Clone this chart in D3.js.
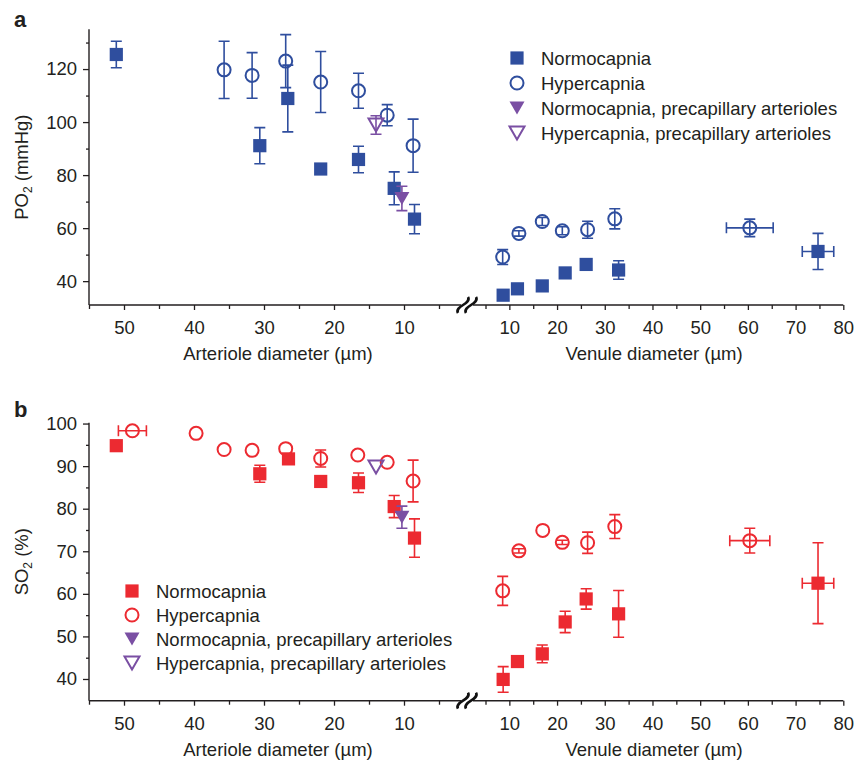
<html>
<head>
<style>
body { margin: 0; background: #fff; }
svg { display: block; }
text { font-family: 'Liberation Sans', Arial, Helvetica, sans-serif; fill: #231f20; }
</style>
<script src="https://d3js.org/d3.v7.min.js"></script>
</head>
<body>
<svg id="chart" width="855" height="760"></svg>
<script>
// rows: [diameter (um), value, y error, x error]
// panel a - PO2 (mmHg)
const po2ArtNormo = [[51.1,125.5,5],[30.6,91.1,6.8],[26.6,108.9,12.6],[21.9,82.3,0],[16.5,85.9,5],[11.4,75.0,6.2],[8.5,63.4,5.5]];
const po2ArtHyper = [[35.7,119.7,10.8],[31.7,117.6,8.6],[26.9,123.0,10],[21.9,115.1,11.5],[16.5,111.8,6.6],[12.4,102.6,4],[8.7,91.1,10]];
const po2PreNormo = [[10.3,71.2,4.6]];
const po2PreHyper = [[14.0,98.9,3.5]];
const po2VenNormo = [[8.7,34.7,0],[11.7,37.1,0],[16.9,38.2,0],[21.7,43.1,0],[26.1,46.3,0],[32.9,44.2,3.5],[74.7,51.2,6.8,3.3]];
const po2VenHyper = [[8.6,49.1,2.8],[12.0,58.0,1],[16.9,62.5,1.5],[21.1,59.0,1.5],[26.4,59.4,3.2],[32.1,63.5,3.8],[60.4,60.1,3.3,4.9]];

// panel b - SO2 (%)
const so2ArtNormo = [[51.1,94.8,0],[30.6,88.2,2],[26.5,91.7,0.8],[21.9,86.4,0],[16.5,86.1,2.3],[11.4,80.5,2.6],[8.5,73.1,4.5]];
const so2ArtHyper = [[48.8,98.3,0,2],[39.7,97.7,0],[35.7,93.9,0],[31.7,93.7,0],[26.9,94.1,0],[21.9,91.8,2],[16.6,92.6,0],[12.4,90.9,0],[8.7,86.5,4.9]];
const so2PreNormo = [[10.3,78.0,2.6]];
const so2PreHyper = [[14.0,89.8,0]];
const so2VenNormo = [[8.7,39.9,3],[11.7,44.1,1],[16.9,45.9,2.1],[21.7,53.4,2.5],[26.1,58.8,2.4],[32.9,55.3,5.5],[74.7,62.5,9.5,3.3]];
const so2VenHyper = [[8.6,60.7,3.4],[12.0,70.1,0.5],[17.0,74.9,0],[21.1,72.1,0.5],[26.4,72.0,2.5],[32.1,75.8,2.8],[60.4,72.5,2.9,4.2]];

const legendNames = ["Normocapnia", "Hypercapnia", "Normocapnia, precapillary arterioles", "Hypercapnia, precapillary arterioles"];
const artTicks = [50, 40, 30, 20, 10];
const artMinor = [55, 45, 35, 25, 15, 5];
const venTicks = [10, 20, 30, 40, 50, 60, 70, 80];
const venMinor = [5, 15, 25, 35, 45, 55, 65, 75];

const blue = "#2f4e9e", red = "#ec2a31", purple = "#7a4fa3";
const fs = "18.5px";
const svg = d3.select("#chart");

// arteriole axis reversed, venule axis after the break
const xArt = d3.scaleLinear().domain([55, 5]).range([89, 439]);
const xVen = d3.scaleLinear().domain([5, 80]).range([485.5, 843.3]);

function marker(g, type, color, x, y) {
  if (type == "square") {
    g.append("rect").attr("x", x - 6.6).attr("y", y - 6.6).attr("width", 13.2).attr("height", 13.2).attr("fill", color);
  } else if (type == "circle") {
    g.append("circle").attr("cx", x).attr("cy", y).attr("r", 6.5).attr("fill", "none").attr("stroke", color).attr("stroke-width", 2);
  } else {
    const p = "M" + (x - 7.5) + "," + (y - 6.5) + "L" + (x + 7.5) + "," + (y - 6.5) + "L" + x + "," + (y + 6.5) + "Z";
    if (type == "tri") g.append("path").attr("d", p).attr("fill", color);
    else g.append("path").attr("d", p).attr("fill", "none").attr("stroke", color).attr("stroke-width", 2).attr("stroke-linejoin", "miter");
  }
}

function series(g, rows, xs, y, type, color) {
  const eb = g.append("g").attr("stroke", color).attr("stroke-width", 1.6).attr("fill", "none");
  rows.forEach(function(r) {
    const cx = xs(r[0]), cy = y(r[1]);
    if (r[2] > 0) {
      const t = y(r[1] + r[2]), b = y(r[1] - r[2]);
      eb.append("path").attr("d", "M" + cx + "," + t + "V" + b + "M" + (cx - 5.5) + "," + t + "H" + (cx + 5.5) + "M" + (cx - 5.5) + "," + b + "H" + (cx + 5.5));
    }
    if (r[3]) {
      const l = xs(r[0] - r[3]), rr = xs(r[0] + r[3]);
      eb.append("path").attr("d", "M" + l + "," + cy + "H" + rr + "M" + l + "," + (cy - 5.5) + "V" + (cy + 5.5) + "M" + rr + "," + (cy - 5.5) + "V" + (cy + 5.5));
    }
  });
  rows.forEach(function(r) { marker(g, type, color, xs(r[0]), y(r[1])); });
}

function panel(p) {
  const g = svg.append("g");
  const y = d3.scaleLinear().domain(p.yDomain).range(p.yRange);
  const base = p.yRange[0];

  // y axis
  const ya = g.append("g").attr("transform", "translate(89,0)");
  ya.call(d3.axisLeft(y).tickValues(p.yTicks).tickSize(6).tickPadding(6));
  ya.append("g").call(d3.axisLeft(y).tickValues(p.yMinor).tickSize(3).tickFormat(""));
  ya.selectAll(".domain").remove();
  ya.append("line").attr("x1", 0).attr("x2", 0).attr("y1", p.yRange[1]).attr("y2", base).attr("stroke", "#231f20").attr("stroke-width", 1.4);

  // x axes
  [[xArt, artTicks, artMinor], [xVen, venTicks, venMinor]].forEach(function(a) {
    const xa = g.append("g").attr("transform", "translate(0," + base + ")");
    xa.call(d3.axisBottom(a[0]).tickValues(a[1]).tickSize(5).tickPadding(11));
    xa.append("g").call(d3.axisBottom(a[0]).tickValues(a[2]).tickSize(4).tickFormat(""));
    xa.selectAll(".domain").remove();
  });
  g.selectAll(".tick line").attr("stroke", "#231f20").attr("stroke-width", 1.3);
  g.selectAll(".tick text").style("font-size", fs).attr("fill", "#231f20");
  g.append("path").attr("d", "M89," + base + "H461M473," + base + "H843.3").attr("stroke", "#231f20").attr("stroke-width", 1.4);

  // break marks
  [463, 471].forEach(function(bx) {
    g.append("path")
      .attr("d", "M" + (bx - 5) + "," + (base + 8) + "C" + (bx - 9) + "," + (base + 1) + " " + (bx + 9) + "," + (base - 1) + " " + (bx + 5) + "," + (base - 8))
      .attr("fill", "none").attr("stroke", "#111").attr("stroke-width", 2.6);
  });

  // axis titles
  g.append("text").attr("x", 278).attr("y", base + 55).attr("text-anchor", "middle").style("font-size", fs).text("Arteriole diameter (\u00b5m)");
  g.append("text").attr("x", 654).attr("y", base + 55).attr("text-anchor", "middle").style("font-size", fs).text("Venule diameter (\u00b5m)");
  const yt = g.append("text").attr("transform", "translate(28," + ((p.yRange[0] + p.yRange[1]) / 2) + ") rotate(-90)")
    .attr("text-anchor", "middle").style("font-size", fs);
  yt.append("tspan").text(p.yLabel[0]);
  yt.append("tspan").attr("dy", 4).style("font-size", "12px").text("2");
  yt.append("tspan").attr("dy", -4).text(p.yLabel[1]);
  g.append("text").attr("x", 14).attr("y", p.letterY).style("font-size", "22px").style("font-weight", "bold").text(p.letter);

  // data
  series(g, p.artNormo, xArt, y, "square", p.color);
  series(g, p.venNormo, xVen, y, "square", p.color);
  series(g, p.artHyper, xArt, y, "circle", p.color);
  series(g, p.venHyper, xVen, y, "circle", p.color);
  series(g, p.preHyper, xArt, y, "otri", purple);
  series(g, p.preNormo, xArt, y, "tri", purple);

  // legend
  const types = ["square", "circle", "tri", "otri"];
  legendNames.forEach(function(name, i) {
    const ly = p.legend[1] + i * p.legend[2];
    marker(g, types[i], i < 2 ? p.color : purple, p.legend[0], ly);
    g.append("text").attr("x", p.legend[0] + 24).attr("y", ly).attr("dy", "0.36em").style("font-size", fs).text(name);
  });
}

panel({
  letter: "a", letterY: 27, color: blue,
  yDomain: [31, 135], yRange: [305, 29.3],
  yTicks: [40, 60, 80, 100, 120], yMinor: [50, 70, 90, 110, 130],
  yLabel: ["PO", " (mmHg)"],
  artNormo: po2ArtNormo, artHyper: po2ArtHyper, preNormo: po2PreNormo, preHyper: po2PreHyper,
  venNormo: po2VenNormo, venHyper: po2VenHyper,
  legend: [517, 58, 25]
});

panel({
  letter: "b", letterY: 417, color: red,
  yDomain: [34.9, 100.2], yRange: [700.7, 422.7],
  yTicks: [40, 50, 60, 70, 80, 90, 100], yMinor: [45, 55, 65, 75, 85, 95],
  yLabel: ["SO", " (%)"],
  artNormo: so2ArtNormo, artHyper: so2ArtHyper, preNormo: so2PreNormo, preHyper: so2PreHyper,
  venNormo: so2VenNormo, venHyper: so2VenHyper,
  legend: [132, 591, 24]
});
</script>
</body>
</html>
